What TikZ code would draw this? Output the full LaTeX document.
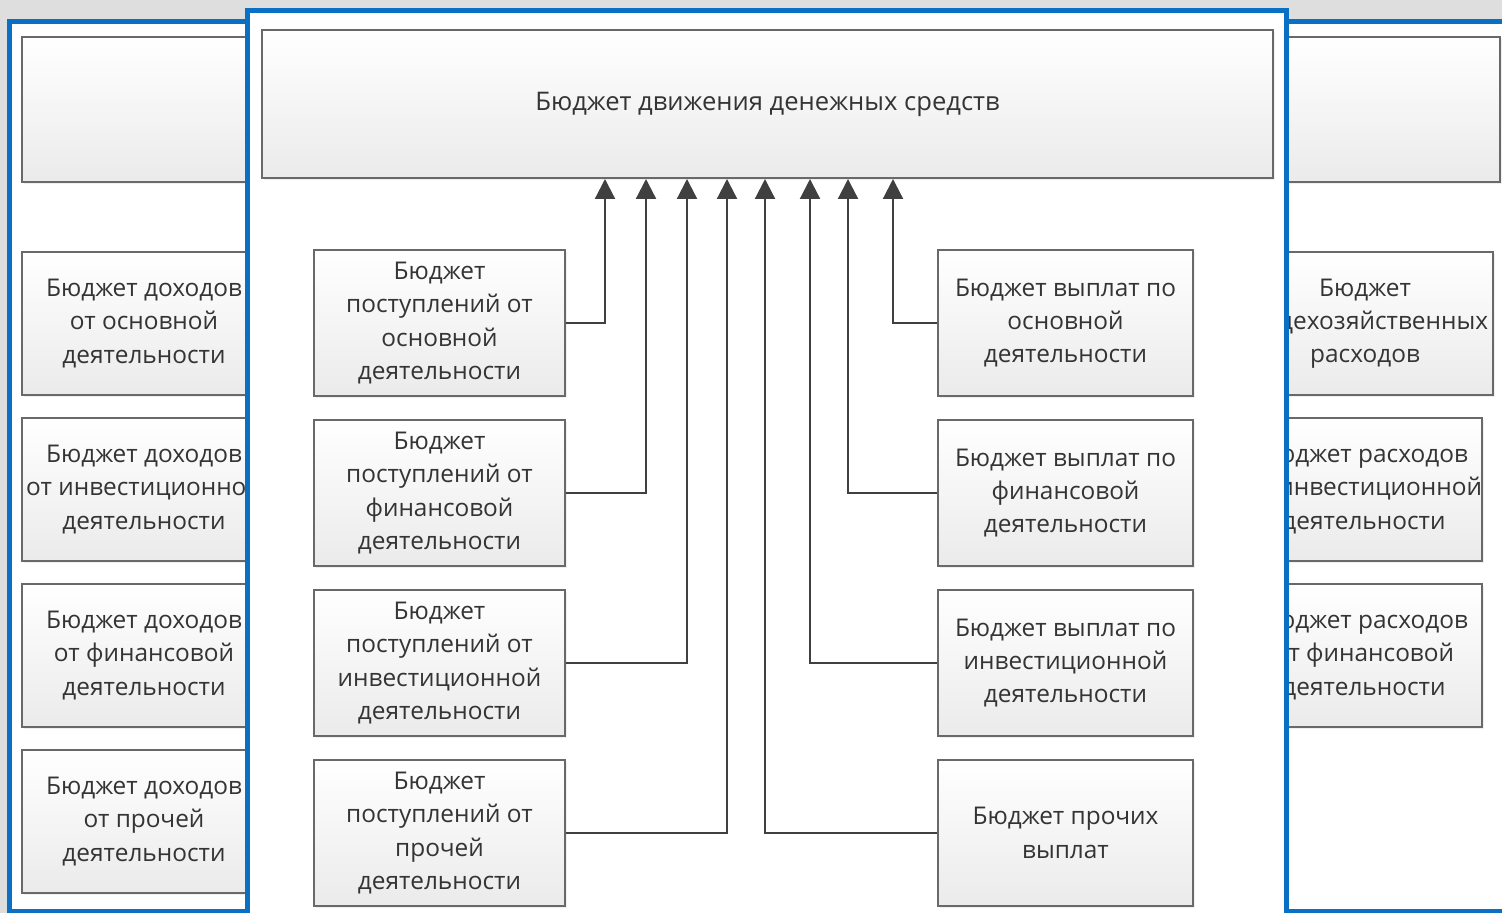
\documentclass[tikz,border=0pt]{standalone}
\usepackage{fontspec}
\setmainfont{Open Sans}
\usetikzlibrary{arrows.meta,shadows}
\definecolor{panelblue}{RGB}{10,112,196}
\definecolor{bggray}{RGB}{222,222,222}
\definecolor{boxline}{RGB}{105,105,105}
\definecolor{txt}{RGB}{52,52,52}
\definecolor{conn}{RGB}{64,64,64}
\tikzset{
  panel/.style={fill=white,draw=panelblue,line width=2.5pt},
  bbox/.style={draw=boxline,line width=1pt,top color=white,bottom color=black!8,
    drop shadow={opacity=0.12,shadow xshift=1.2pt,shadow yshift=-1.2pt},
    inner sep=0pt,align=center,text=txt,font=\fontsize{12.2}{16.6}\selectfont},
  lbox/.style={bbox,minimum width=125.5pt,minimum height=73pt},
  sbox/.style={bbox,minimum width=122pt,minimum height=71.5pt},
  flow/.style={draw=conn,line width=1.1pt,-{Triangle[width=10pt,length=10pt]}}
}
\begin{document}
\begin{tikzpicture}[x=0.5pt,y=-0.5pt]
\useasboundingbox (0,0) rectangle (1502,913);
\clip (0,0) rectangle (1502,913);
\fill[bggray] (0,0) rectangle (1502,913);
% left background panel
\path[panel] (9.5,21.5) rectangle (600,911);
\node[bbox,minimum width=289pt,minimum height=72.5pt] (ltop) at (311,109.5) {};
\node[sbox] (la) at (144,323.5) {Бюджет доходов\\от основной\\деятельности};
\node[sbox] (lb) at (144,489.5) {Бюджет доходов\\от инвестиционной\\деятельности};
\node[sbox] (lc) at (144,655.5) {Бюджет доходов\\от финансовой\\деятельности};
\node[sbox] (ld) at (144,821.5) {Бюджет доходов\\от прочей\\деятельности};
% right background panel
\path[panel] (900,21.5) rectangle (1540,911);
\node[bbox,minimum width=250pt,minimum height=72.5pt] (rtop) at (1250,109.5) {};
\node[sbox,minimum width=128pt] (ra) at (1365,323.5) {Бюджет\\общехозяйственных\\расходов};
\node[sbox,minimum width=118pt] (rb) at (1364,489.5) {Бюджет расходов\\от инвестиционной\\деятельности};
\node[sbox,minimum width=118pt] (rc) at (1364,655.5) {Бюджет расходов\\от финансовой\\деятельности};
% middle panel
\path[panel] (247.5,10.5) rectangle (1286.5,940);
\node[bbox,minimum width=505.5pt,minimum height=74pt,font=\fontsize{12.8}{16.6}\selectfont] (top) at (767.5,104) {Бюджет движения денежных средств};
\node[lbox] (p1) at (439.5,323) {Бюджет\\поступлений от\\основной\\деятельности};
\node[lbox] (p2) at (439.5,493) {Бюджет\\поступлений от\\финансовой\\деятельности};
\node[lbox] (p3) at (439.5,663) {Бюджет\\поступлений от\\инвестиционной\\деятельности};
\node[lbox] (p4) at (439.5,833) {Бюджет\\поступлений от\\прочей\\деятельности};
\node[lbox,minimum width=127.5pt] (v1) at (1065.5,323) {Бюджет выплат по\\основной\\деятельности};
\node[lbox,minimum width=127.5pt] (v2) at (1065.5,493) {Бюджет выплат по\\финансовой\\деятельности};
\node[lbox,minimum width=127.5pt] (v3) at (1065.5,663) {Бюджет выплат по\\инвестиционной\\деятельности};
\node[lbox,minimum width=127.5pt] (v4) at (1065.5,833) {Бюджет прочих\\выплат};
% connector columns
\coordinate (x1) at (605,0);
\coordinate (x2) at (646,0);
\coordinate (x3) at (687,0);
\coordinate (x4) at (727,0);
\coordinate (x5) at (765,0);
\coordinate (x6) at (810,0);
\coordinate (x7) at (848,0);
\coordinate (x8) at (893,0);
\draw[flow] (p1.east) -| (top.south -| x1);
\draw[flow] (p2.east) -| (top.south -| x2);
\draw[flow] (p3.east) -| (top.south -| x3);
\draw[flow] (p4.east) -| (top.south -| x4);
\draw[flow] (v4.west) -| (top.south -| x5);
\draw[flow] (v3.west) -| (top.south -| x6);
\draw[flow] (v2.west) -| (top.south -| x7);
\draw[flow] (v1.west) -| (top.south -| x8);
\end{tikzpicture}
\end{document}
